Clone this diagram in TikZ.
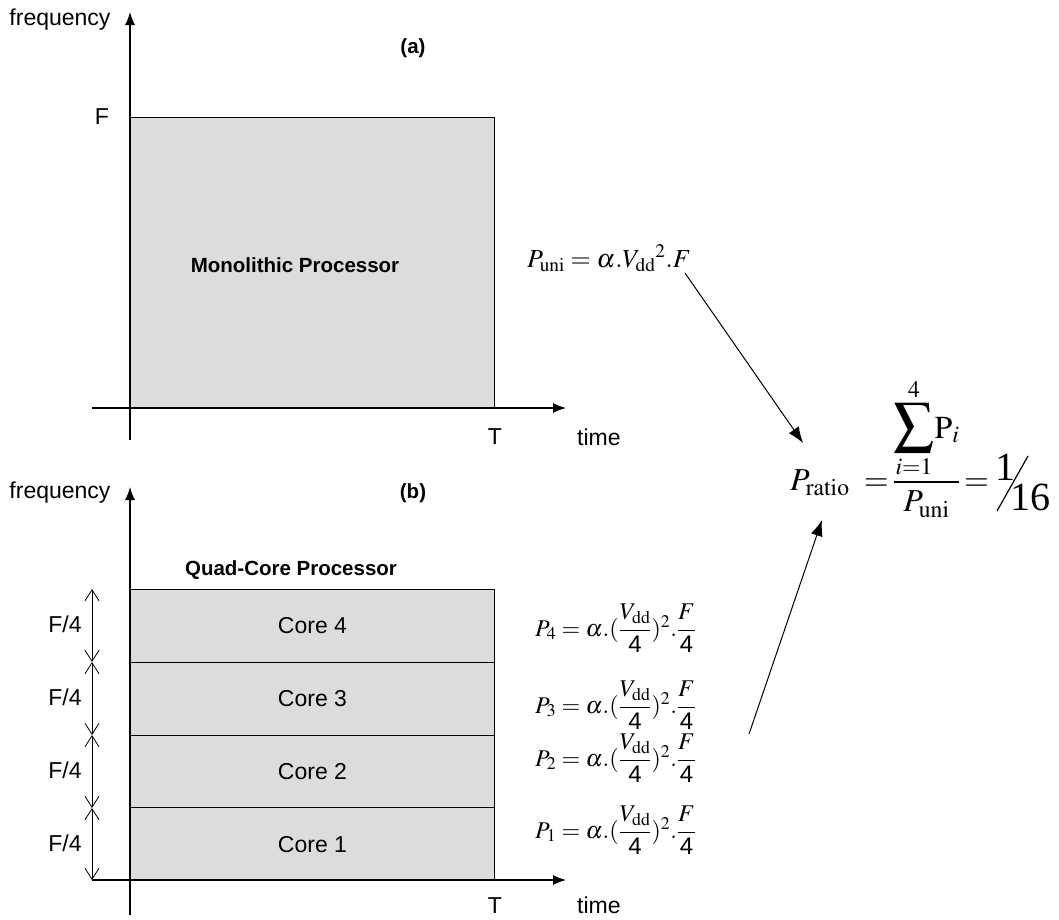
\documentclass[tikz,border=0pt]{standalone}
\usepackage{amsmath}
\usepackage{mathptmx}
\usepackage{fontspec}
\setmainfont{Liberation Serif}
\setsansfont{Liberation Sans}
\usetikzlibrary{arrows.meta}
\definecolor{boxgray}{RGB}{220,220,221}
\begin{document}
\begin{tikzpicture}[x=1pt,y=-1pt,
  lbl/.style={font=\fontsize{23}{26}\sffamily, inner sep=0pt},
  blbl/.style={font=\fontsize{20.5}{24}\sffamily\bfseries, inner sep=0pt},
  axis/.style={line width=1.2pt, -{Latex[length=13pt,width=10pt]}},
  box/.style={draw, line width=1pt, fill=boxgray, inner sep=0pt, anchor=north west, minimum width=364pt},
  dim/.style={line width=0.8pt, {Straight Barb[length=11pt,width=14pt]}-{Straight Barb[length=11pt,width=14pt]}},
  eq/.style={font=\fontsize{24}{28}\selectfont, inner sep=0pt, anchor=base west},
  big/.style={font=\fontsize{32}{36}\selectfont, inner sep=0pt, anchor=base west},
  link/.style={line width=1pt, -{Latex[length=16pt,width=12pt]}}]
\useasboundingbox (0,0) rectangle (1059,919);

% ---------- (a) ----------
\node[box, minimum height=291pt] (mono) at (130,117) {};
\node[blbl] (monolbl) at (295,265) {Monolithic Processor};
\coordinate (ya0) at (130,440);
\coordinate (ya1) at (130,12);
\coordinate (xa0) at (92,408);
\coordinate (xa1) at (566,408);
\draw[axis] (ya0) -- (ya1);
\draw[axis] (xa0) -- (xa1);
\node[lbl] (freqa) at (60,20) {frequency};
\node[lbl] (fa) at (102,117) {F};
\node[blbl] (la) at (413,48) {(a)};
\node[lbl] (ta) at (495,437) {T};
\node[lbl, anchor=west] (timea) at (577,437) {time};

% ---------- (b) ----------
\node[box, minimum height=72.75pt, font=\fontsize{23}{26}\sffamily] (c4) at (130,589) {Core 4};
\node[box, minimum height=72.75pt, font=\fontsize{23}{26}\sffamily] (c3) at (130,661.75) {Core 3};
\node[box, minimum height=72.75pt, font=\fontsize{23}{26}\sffamily] (c2) at (130,734.5) {Core 2};
\node[box, minimum height=72.75pt, font=\fontsize{23}{26}\sffamily] (c1) at (130,807.25) {Core 1};
\coordinate (yb0) at (130,915);
\coordinate (yb1) at (130,487);
\coordinate (xb0) at (92,880);
\coordinate (xb1) at (566,880);
\draw[axis] (yb0) -- (yb1);
\draw[axis] (xb0) -- (xb1);
\node[lbl] (freqb) at (60,493) {frequency};
\node[blbl] (lb) at (413,493) {(b)};
\node[blbl] (quad) at (291,570) {Quad-Core Processor};
\node[lbl] (tb) at (495,906) {T};
\node[lbl, anchor=west] (timeb) at (577,905) {time};

\coordinate (d0) at (92,589);
\coordinate (d1) at (92,662);
\coordinate (d2) at (92,735);
\coordinate (d3) at (92,808);
\coordinate (d4) at (92,880);
\draw[dim] (d0) -- (d1);
\draw[dim] (d1) -- (d2);
\draw[dim] (d2) -- (d3);
\draw[dim] (d3) -- (d4);
\node[lbl] (f4) at (65,624) {F/4};
\node[lbl] (f3) at (65,697) {F/4};
\node[lbl] (f2) at (65,770) {F/4};
\node[lbl] (f1) at (65,843) {F/4};

% ---------- formulas ----------
\node[eq, font=\fontsize{26}{30}\selectfont] (puni) at (527,267) {$P_{\mathrm{uni}} = \alpha.{V_{\mathrm{dd}}}^{2}.F$};
\node[eq] (p4) at (535,636) {$P_4 = \alpha.(\dfrac{V_{\mathrm{dd}}}{\textsf{4}})^2.\dfrac{F}{\textsf{4}}$};
\node[eq] (p3) at (535,713) {$P_3 = \alpha.(\dfrac{V_{\mathrm{dd}}}{\textsf{4}})^2.\dfrac{F}{\textsf{4}}$};
\node[eq] (p2) at (535,766) {$P_2 = \alpha.(\dfrac{V_{\mathrm{dd}}}{\textsf{4}})^2.\dfrac{F}{\textsf{4}}$};
\node[eq] (p1) at (535,838) {$P_1 = \alpha.(\dfrac{V_{\mathrm{dd}}}{\textsf{4}})^2.\dfrac{F}{\textsf{4}}$};

\node[big] (pratio) at (790,490) {$P_{\mathrm{ratio}}\;=\!\dfrac{\displaystyle\mathop{\scalebox{1.25}{$\displaystyle\sum$}}\limits_{i=1}^{4}\!\mathrm{P}_i}{P_{\mathrm{uni}}}\!=$};
\node[font=\fontsize{40}{40}\selectfont, inner sep=0pt, anchor=base west] (one) at (995,480) {1};
\node[font=\fontsize{40}{40}\selectfont, inner sep=0pt, anchor=base west] (sixteen) at (1010,510) {16};
\coordinate (s0) at (997,511);
\coordinate (s1) at (1028,456);
\draw[line width=1.2pt] (s0) -- (s1);

\coordinate (a0) at (685,273);
\coordinate (a1) at (803,443);
\coordinate (b0) at (749,734);
\coordinate (b1) at (822,520);
\draw[link] (a0) -- (a1);
\draw[link] (b0) -- (b1);
\end{tikzpicture}
\end{document}
